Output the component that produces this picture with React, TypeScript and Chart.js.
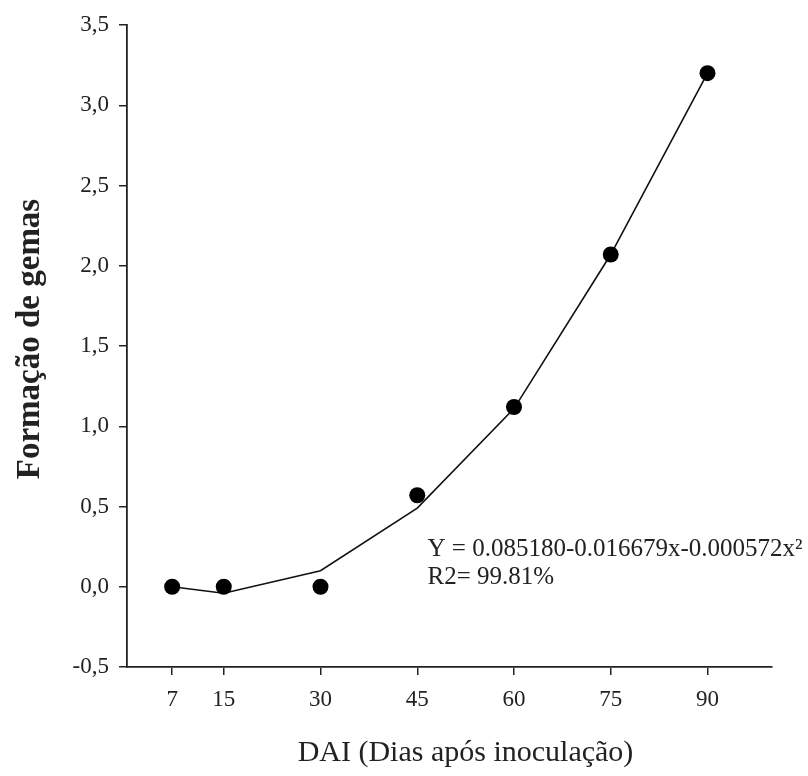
import React, { useEffect, useRef } from "react";
import { Chart, registerables } from "chart.js";

Chart.register(...registerables);

const days = [7, 15, 30, 45, 60, 75, 90];
const observed = [0.0, 0.0, 0.0, 0.57, 1.12, 2.07, 3.2];
const fitted = [0.0, -0.04, 0.1, 0.49, 1.11, 2.07, 3.2];
const xTicks = [7, 15, 30, 45, 60, 75, 90];
const yTickStep = 0.5;
const xTitle = "DAI (Dias após inoculação)";
const yTitle = "Formação de gemas";
const equationLines = ["Y = 0.085180-0.016679x-0.000572x²", "R2= 99.81%"];
const equationAnchor = { x: 46.6, y1: 0.23, y2: 0.055 };

const FONT = "'Liberation Serif', 'Times New Roman', serif";
const TEXT = "#222";
const AXIS = "#222";

const textPlugin = {
  id: "textOverlay",
  afterDraw(chart: any) {
    const { ctx, scales, chartArea } = chart;
    ctx.save();
    ctx.fillStyle = TEXT;
    // equation
    const x = scales.x.getPixelForValue(equationAnchor.x);
    ctx.font = `25px ${FONT}`;
    ctx.textAlign = "left";
    ctx.textBaseline = "middle";
    ctx.fillText(equationLines[0], x, scales.y.getPixelForValue(equationAnchor.y1));
    ctx.fillText(equationLines[1], x, scales.y.getPixelForValue(equationAnchor.y2));
    // x axis title
    ctx.font = `30px ${FONT}`;
    ctx.textAlign = "center";
    ctx.textBaseline = "middle";
    const cx = (chartArea.left + chartArea.right) / 2 + 16;
    ctx.fillText(xTitle, cx, chartArea.bottom + 86);
    // y axis title
    ctx.font = `bold 33px ${FONT}`;
    const cy = (chartArea.top + chartArea.bottom) / 2 - 7;
    ctx.translate(30, cy);
    ctx.rotate(-Math.PI / 2);
    ctx.fillText(yTitle, 0, 0);
    ctx.restore();
  },
};

export default function App() {
  const ref = useRef<HTMLCanvasElement>(null);
  useEffect(() => {
    document.body.style.margin = "0";
    const canvas = ref.current!;
    const chart = new Chart(canvas, {
      type: "scatter",
      data: {
        datasets: [
          {
            label: "Observado",
            data: days.map((d, i) => ({ x: d, y: observed[i] })),
            showLine: false,
            pointRadius: 8,
            pointBackgroundColor: "#000",
            pointBorderColor: "#000",
            pointBorderWidth: 0,
            order: 0,
          },
          {
            label: "Ajuste",
            data: days.map((d, i) => ({ x: d, y: fitted[i] })),
            showLine: true,
            borderColor: "#111",
            borderWidth: 1.6,
            pointRadius: 0,
            tension: 0,
            order: 1,
          },
        ],
      },
      options: {
        animation: false,
        responsive: false,
        devicePixelRatio: 1,
        layout: { padding: { left: 0, right: 36, top: 25, bottom: 0 } },
        plugins: {
          legend: { display: false },
          tooltip: { enabled: false },
        },
        scales: {
          x: {
            type: "linear",
            min: 0,
            max: 100,
            afterBuildTicks: (scale: any) => {
              scale.ticks = xTicks.map((v) => ({ value: v }));
            },
            afterFit: (scale: any) => {
              scale.height = 109;
            },
            ticks: {
              autoSkip: false,
              maxRotation: 0,
              color: TEXT,
              font: { family: FONT, size: 23 },
              padding: 11,
              callback: (v: any) => String(v),
            },
            grid: {
              drawOnChartArea: false,
              drawTicks: true,
              tickLength: 8,
              color: AXIS,
              lineWidth: 1.5,
            },
            border: { display: true, color: AXIS, width: 1.8 },
          },
          y: {
            type: "linear",
            min: -0.5,
            max: 3.5,
            afterFit: (scale: any) => {
              scale.width = 127;
            },
            ticks: {
              stepSize: yTickStep,
              color: TEXT,
              font: { family: FONT, size: 23 },
              padding: 10,
              callback: (v: any) => Number(v).toFixed(1).replace(".", ","),
            },
            grid: {
              drawOnChartArea: false,
              drawTicks: true,
              tickLength: 8,
              color: AXIS,
              lineWidth: 1.5,
            },
            border: { display: true, color: AXIS, width: 1.8 },
          },
        },
      },
      plugins: [textPlugin],
    });
    return () => chart.destroy();
  }, []);
  return (
    <div style={{ width: 808, height: 776, background: "#fff" }}>
      <canvas ref={ref} width={808} height={776} style={{ display: "block" }} />
    </div>
  );
}
